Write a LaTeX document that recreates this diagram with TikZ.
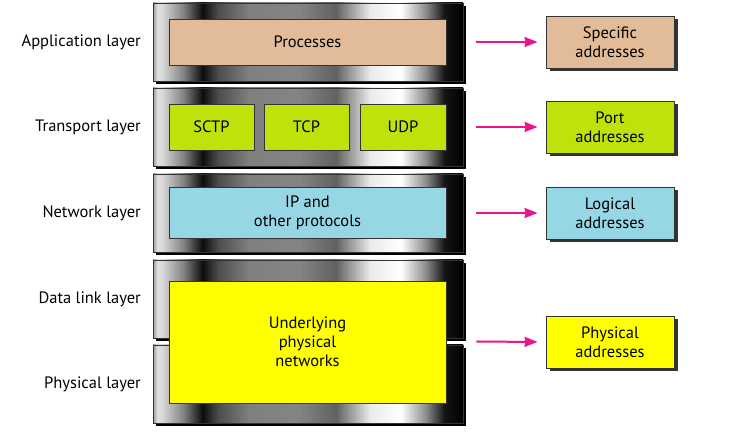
\documentclass[tikz,border=0pt]{standalone}
\usepackage{fontspec}
\setmainfont{PT Sans}
\usetikzlibrary{arrows.meta,shadows}
\definecolor{proctan}{RGB}{226,188,152}
\definecolor{portgreen}{RGB}{191,226,12}
\definecolor{logicblue}{RGB}{151,215,229}
\definecolor{physyellow}{RGB}{255,255,0}
\definecolor{arrowpink}{RGB}{235,20,140}
\pgfdeclarehorizontalshading{metal}{100bp}{color(0bp)=(black!40); color(25bp)=(black!40); color(25.7bp)=(black!12); color(26.5bp)=(black!15); color(30bp)=(black!50); color(33bp)=(black!95); color(35.5bp)=(black!70); color(40.5bp)=(black!50); color(48.5bp)=(black!48); color(54.5bp)=(black!62); color(60bp)=(black!8); color(65bp)=(white); color(69bp)=(black!45); color(72bp)=(black!92); color(75bp)=(black); color(100bp)=(black)}

\begin{document}
\begin{tikzpicture}[x=1pt,y=-1pt]
\tikzstyle{every node}+=[inner sep=0pt,font=\fontsize{16.5}{19}\selectfont,align=center]
\tikzstyle{band}=[draw=black!80,line width=0.6pt,shade,shading=metal,minimum width=310pt,minimum height=78pt,drop shadow={shadow xshift=3pt,shadow yshift=-3pt,fill=black,opacity=1}]
\tikzstyle{proto}=[draw=black!80,line width=0.9pt,minimum height=46pt]
\tikzstyle{addr}=[draw=black!80,line width=0.9pt,minimum width=128pt,minimum height=52pt,drop shadow={shadow xshift=3.5pt,shadow yshift=-3.5pt,fill=black!80,opacity=1}]
\tikzstyle{layername}=[anchor=east]
\tikzstyle{addrarrow}=[arrowpink,line width=2pt,-{Stealth[length=13pt,width=10pt,inset=1pt]}]
\useasboundingbox (0,0) rectangle (729,435);
\node (appband) at (308,42) [band] {};
\node (transband) at (308,127) [band] {};
\node (netband) at (308,213) [band] {};
\node (dlband) at (308,299) [band] {};
\node (phyband) at (308,384) [band] {};
\node (procbox) at (307.5,42) [proto,fill=proctan,minimum width=277pt] {Processes};
\node (sctpbox) at (211.5,127) [proto,fill=portgreen,minimum width=85pt] {SCTP};
\node (tcpbox) at (306.5,127) [proto,fill=portgreen,minimum width=85pt] {TCP};
\node (udpbox) at (403,127) [proto,fill=portgreen,minimum width=86pt] {UDP};
\node (ipbox) at (307.5,213) [proto,fill=logicblue,minimum width=277pt,minimum height=51pt] {IP and\\other protocols};
\node (netbox) at (307.5,342) [proto,fill=physyellow,minimum width=277pt,minimum height=122pt] {Underlying\\physical\\networks};
\node (specaddr) at (610,42) [addr,fill=proctan] {Specific\\addresses};
\node (portaddr) at (610,127) [addr,fill=portgreen] {Port\\addresses};
\node (logaddr) at (610,213) [addr,fill=logicblue] {Logical\\addresses};
\node (physaddr) at (610,342) [addr,fill=physyellow] {Physical\\addresses};
\node (applabel) at (141,42) [layername] {Application layer};
\node (translabel) at (141,127) [layername] {Transport layer};
\node (netlabel) at (141,213) [layername] {Network layer};
\node (dllabel) at (141,299) [layername] {Data link layer};
\node (phylabel) at (141,384) [layername] {Physical layer};
\path (dlband.south east) -- (phyband.north east) coordinate[midway] (bandgap);
\draw [addrarrow] ([xshift=13pt]appband.east) -- ([xshift=-8pt]specaddr.west);
\draw [addrarrow] ([xshift=13pt]transband.east) -- ([xshift=-8pt]portaddr.west);
\draw [addrarrow] ([xshift=13pt]netband.east) -- ([xshift=-8pt]logaddr.west);
\draw [addrarrow] ([xshift=13pt]bandgap) -- ([xshift=-8pt]physaddr.west);
\end{tikzpicture}
\end{document}
